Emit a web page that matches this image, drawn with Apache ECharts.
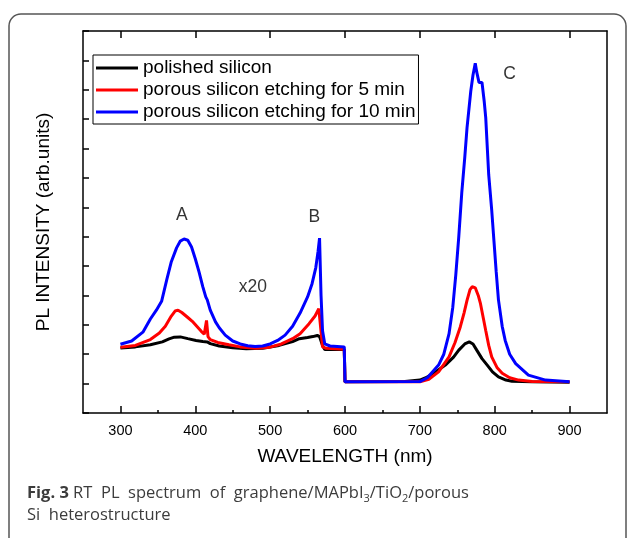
<!DOCTYPE html>
<html lang="en">
<head>
    <meta charset="UTF-8">
    <title>RT PL spectrum</title>
    <script src="https://cdn.jsdelivr.net/npm/echarts@6.0.0/dist/echarts.min.js"></script>
    <style>
        html, body, #chart {
            width: 629px;
            height: 538px;
            padding: 0;
            margin: 0;
            background: #fff;
        }
    </style>
</head>
<body>
<div id="chart"></div>
<script>
    // values: [wavelength nm, intensity in tick units]
    var polished = [
        [300, 2.21], [320, 2.25], [340, 2.32], [356, 2.42], [365, 2.52], [372, 2.58], [380, 2.59],
        [390, 2.53], [401, 2.47], [410, 2.43], [416, 2.42], [420, 2.36], [432, 2.28], [450, 2.22],
        [468, 2.19], [490, 2.2], [512, 2.3], [530, 2.43], [539, 2.53], [550, 2.57], [557, 2.6],
        [563, 2.64], [566, 2.6], [570, 2.3], [573, 2.16], [599, 2.17], [600, 1.06], [680, 1.07],
        [700, 1.12], [708, 1.2], [720, 1.38], [734, 1.63], [745, 1.9], [752, 2.14], [760, 2.35],
        [766, 2.42], [771, 2.35], [776, 2.14], [783, 1.85], [790, 1.63], [797, 1.4], [805, 1.23],
        [815, 1.12], [823, 1.08], [850, 1.06], [900, 1.05]
    ];
    var etch5 = [
        [300, 2.24], [320, 2.3], [340, 2.5], [352, 2.72], [360, 2.95], [368, 3.3], [373, 3.47],
        [377, 3.5], [382, 3.42], [390, 3.25], [396, 3.12], [402, 2.95], [408, 2.78], [412, 2.68],
        [414, 2.65], [415, 3.15], [416, 3.1], [417, 2.6], [420, 2.5], [430, 2.4], [445, 2.32],
        [460, 2.25], [481, 2.2], [500, 2.24], [515, 2.35], [530, 2.53], [540, 2.7], [552, 3.04],
        [560, 3.3], [565, 3.55], [567, 3.6], [570, 2.25], [575, 2.2], [599, 2.17], [600, 1.06],
        [700, 1.06], [712, 1.15], [725, 1.4], [739, 1.91], [747, 2.4], [754, 2.93], [759, 3.4],
        [763, 3.83], [767, 4.2], [770, 4.3], [774, 4.26], [778, 4.0], [781, 3.72], [785, 3.2],
        [788, 2.81], [792, 2.3], [796, 1.91], [803, 1.55], [810, 1.35], [820, 1.2], [832, 1.12],
        [850, 1.07], [900, 1.06]
    ];
    var etch10 = [
        [300, 2.34], [315, 2.45], [330, 2.75], [340, 3.2], [348, 3.5], [355, 3.8], [362, 4.55],
        [368, 5.15], [375, 5.62], [380, 5.85], [385, 5.92], [390, 5.88], [395, 5.65], [400, 5.25],
        [405, 4.8], [410, 4.3], [414, 3.95], [416, 3.85], [420, 3.5], [427, 3.1], [432, 2.9],
        [440, 2.65], [450, 2.45], [460, 2.35], [470, 2.29], [480, 2.26], [490, 2.28], [500, 2.35],
        [510, 2.47], [520, 2.65], [530, 2.95], [540, 3.4], [550, 3.95], [556, 4.4], [561, 4.95],
        [564, 5.5], [566, 5.95], [568, 4.0], [570, 2.8], [573, 2.35], [580, 2.28], [599, 2.25],
        [600, 1.06], [700, 1.07], [710, 1.2], [725, 1.63], [732, 2.0], [739, 2.7], [744, 3.6],
        [748, 4.7], [752, 6.0], [756, 7.5], [760, 8.7], [763, 9.7], [768, 10.95], [771, 11.5],
        [774, 11.9], [776, 11.6], [779, 11.25], [783, 11.25], [786, 10.6], [788, 10.05], [792, 8.1],
        [796, 6.9], [799, 5.85], [802, 4.8], [805, 3.85], [810, 2.95], [814, 2.47], [820, 2.0],
        [828, 1.68], [845, 1.29], [868, 1.12], [900, 1.06]
    ];

    var seriesNames = ["polished silicon", "porous silicon etching for 5 min", "porous silicon etching for 10 min"];
    var seriesColors = ["#000000", "#ff0000", "#0000ff"];

    var majorTicks = [300, 400, 500, 600, 700, 800, 900];
    var minorTicks = [350, 450, 550, 650, 750, 850];

    var annoLabels = ["A", "B", "x20", "C"];
    var annoX = [382, 559, 477, 820];
    var annoY = [6.73, 6.67, 4.29, 11.52];

    var chart = echarts.init(document.getElementById("chart"));

    var font = "Liberation Sans, Arial, sans-serif";
    var capFont = "Open Sans, Noto Sans, sans-serif";
    var boxLine = {show: true, onZero: false, lineStyle: {color: "#000", width: 1.5}};

    var lineSeries = [polished, etch5, etch10].map(function (d, i) {
        return {
            name: seriesNames[i],
            type: "line",
            data: d,
            showSymbol: false,
            symbol: "none",
            silent: true,
            color: seriesColors[i],
            lineStyle: {color: seriesColors[i], width: 3},
            z: 3 + i
        };
    });

    lineSeries.push({
        type: "scatter",
        silent: true,
        symbolSize: 0,
        data: annoLabels.map(function (t, i) {
            return {name: t, value: [annoX[i], annoY[i]]};
        }),
        label: {
            show: true,
            position: "inside",
            formatter: "{b}",
            color: "#000",
            fontSize: 17.5,
            fontFamily: font
        }
    });

    chart.setOption({
        animation: false,
        textStyle: {fontFamily: font},
        grid: {left: 83, top: 31, right: 22, bottom: 125},
        legend: {
            data: seriesNames,
            orient: "vertical",
            left: 93,
            top: 55,
            padding: [2, 3, 1, 3],
            borderColor: "#000",
            borderWidth: 1,
            backgroundColor: "#fff",
            icon: "rect",
            itemWidth: 42,
            itemHeight: 3,
            itemGap: 0,
            selectedMode: false,
            textStyle: {fontSize: 19, lineHeight: 22, color: "#000", fontFamily: font}
        },
        xAxis: [{
            type: "value",
            min: 250,
            max: 950,
            position: "bottom",
            axisLine: boxLine,
            axisTick: {show: true, inside: true, length: 7, customValues: majorTicks, lineStyle: {color: "#000", width: 1.5}},
            axisLabel: {show: true, customValues: majorTicks, margin: 10, fontSize: 14.5, color: "#000", fontFamily: font},
            splitLine: {show: false},
            name: "WAVELENGTH (nm)",
            nameLocation: "middle",
            nameGap: 34,
            nameTextStyle: {fontSize: 19, color: "#000", fontFamily: font}
        }, {
            type: "value",
            min: 250,
            max: 950,
            position: "bottom",
            axisLine: {show: false},
            axisTick: {show: true, inside: true, length: 3, customValues: minorTicks, lineStyle: {color: "#000", width: 1.5}},
            axisLabel: {show: false},
            splitLine: {show: false}
        }, {
            type: "value",
            min: 250,
            max: 950,
            position: "top",
            axisLine: boxLine,
            axisTick: {show: true, inside: true, length: 7, customValues: majorTicks, lineStyle: {color: "#000", width: 1.5}},
            axisLabel: {show: false},
            splitLine: {show: false}
        }],
        yAxis: [{
            type: "value",
            min: 0,
            max: 13,
            interval: 1,
            position: "left",
            axisLine: boxLine,
            axisTick: {show: true, inside: true, length: 6, lineStyle: {color: "#000", width: 1.5}},
            axisLabel: {show: false},
            splitLine: {show: false},
            name: "PL INTENSITY (arb.units)",
            nameLocation: "middle",
            nameGap: 30,
            nameTextStyle: {fontSize: 19, color: "#000", fontFamily: font}
        }, {
            type: "value",
            min: 0,
            max: 13,
            position: "right",
            axisLine: boxLine,
            axisTick: {show: false},
            axisLabel: {show: false},
            splitLine: {show: false}
        }],
        graphic: [{
            type: "rect",
            shape: {x: 9, y: 14, width: 617, height: 540, r: 12},
            style: {fill: null, stroke: "#555", lineWidth: 1.5},
            silent: true
        }, {
            type: "text",
            left: 27,
            top: 482,
            silent: true,
            style: {
                text: "{b|Fig. 3} RT  PL  spectrum  of  graphene/MAPbI{s|3}/TiO{s|2}/porous\nSi  heterostructure",
                fontFamily: capFont,
                fontSize: 16.5,
                lineHeight: 22,
                fill: "#3c3c3c",
                rich: {
                    b: {fontWeight: "bold", fontSize: 16.5, lineHeight: 22, fill: "#3c3c3c", fontFamily: capFont},
                    s: {fontSize: 11, lineHeight: 11, padding: [9, 0, 0, 0], verticalAlign: "bottom", fill: "#3c3c3c", fontFamily: capFont}
                }
            }
        }],
        series: lineSeries
    });
</script>
</body>
</html>
